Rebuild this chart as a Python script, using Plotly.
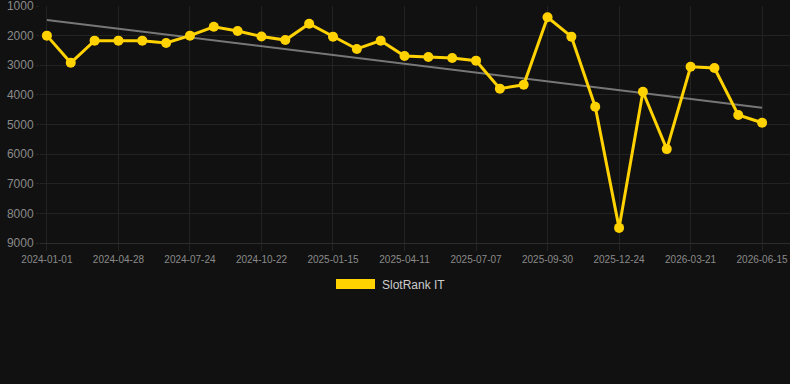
import plotly.graph_objects as go

dates = [
    "2024-01-01", "2024-02-09", "2024-03-19", "2024-04-28", "2024-05-27", "2024-06-25",
    "2024-07-24", "2024-08-23", "2024-09-22", "2024-10-22", "2024-11-19", "2024-12-17",
    "2025-01-15", "2025-02-13", "2025-03-14", "2025-04-11", "2025-05-10", "2025-06-08",
    "2025-07-07", "2025-08-04", "2025-09-01", "2025-09-30", "2025-10-28", "2025-11-25",
    "2025-12-24", "2026-01-22", "2026-02-19", "2026-03-21", "2026-04-19", "2026-05-17",
    "2026-06-15",
]
ranks = [
    2000, 2915, 2170, 2170, 2170, 2250, 2000, 1700, 1845, 2030, 2150, 1600,
    2035, 2450, 2170, 2690, 2720, 2755, 2845, 3790, 3660, 1380, 2035, 4400,
    8490, 3895, 5830, 3050, 3095, 4680, 4940,
]
trend_values = [1470, 4435]
tick_labels = dates[::3]
y_ticks = [1000, 2000, 3000, 4000, 5000, 6000, 7000, 8000, 9000]
series_name = "SlotRank IT"

BG = "#111111"
GRID = "#232323"
GOLD = "#FFD200"
LABEL = "#8a8a8a"
FONT = "Liberation Sans, Arial, Helvetica, sans-serif"

fig = go.Figure()
fig.add_trace(go.Scatter(
    x=[dates[0], dates[-1]], y=trend_values, mode="lines",
    line=dict(color="#777777", width=2), showlegend=False, hoverinfo="skip",
))
fig.add_trace(go.Scatter(
    x=dates, y=ranks, mode="lines+markers", name=series_name,
    line=dict(color=GOLD, width=3),
    marker=dict(color=GOLD, size=10),
    showlegend=False,
))

# legend drawn as a box + label
fig.add_shape(type="rect", xref="paper", yref="paper",
              x0=(336 - 40) / 750, x1=(375 - 40) / 750,
              y0=(243 - 289) / 237, y1=(243 - 279) / 237,
              fillcolor=GOLD, line=dict(width=0))
fig.add_annotation(xref="paper", yref="paper",
                   x=(380 - 40) / 750, y=(243 - 284.5) / 237,
                   text=series_name, showarrow=False, xanchor="left", yanchor="middle",
                   font=dict(family=FONT, size=12, color="#cccccc"))

fig.update_layout(
    width=790, height=384,
    margin=dict(l=40, r=0, t=6, b=141),
    paper_bgcolor=BG, plot_bgcolor=BG,
    font=dict(family=FONT, color=LABEL),
    showlegend=False,
    xaxis=dict(
        type="category", categoryorder="array", categoryarray=dates,
        range=[-0.29, 31.17],
        tickvals=tick_labels, ticktext=tick_labels,
        tickfont=dict(size=10, color=LABEL),
        showgrid=True, gridcolor=GRID, gridwidth=1,
        ticks="outside", ticklen=7, tickcolor=GRID,
        showline=True, linecolor="#2c2c2c", linewidth=1,
        zeroline=False, fixedrange=True,
    ),
    yaxis=dict(
        range=[9000, 1000],
        tickvals=y_ticks,
        tickfont=dict(size=12, color=LABEL),
        ticklabeloverflow="allow",
        showgrid=True, gridcolor=GRID, gridwidth=1,
        ticks="outside", ticklen=3, tickcolor=GRID,
        zeroline=False, showline=False, fixedrange=True,
    ),
)

fig.write_html("out.html")
